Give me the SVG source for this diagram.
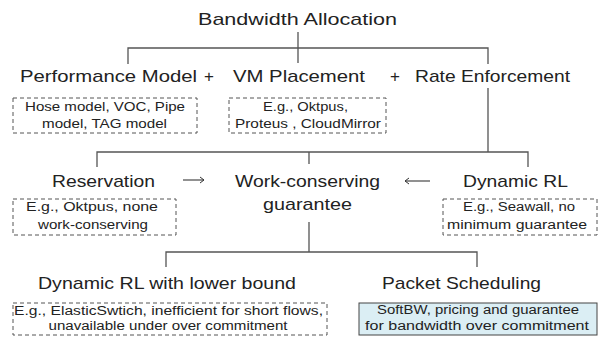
<svg xmlns="http://www.w3.org/2000/svg" width="601" height="345" viewBox="0 0 601 345">
<style>
text{font-family:"Liberation Sans",Arial,sans-serif;fill:#222;text-anchor:middle}
.h{font-size:17px}
.s{font-size:12.5px}
.dash{fill:none;stroke:#555;stroke-width:1;stroke-dasharray:4,3}
.ln{fill:none;stroke:#555;stroke-width:1.3}
</style>
<defs>
<marker id="ah" markerWidth="8" markerHeight="8" refX="7" refY="4" orient="auto" markerUnits="userSpaceOnUse">
<path d="M3,1 L7,4 L3,7" fill="none" stroke="#333" stroke-width="1"/>
</marker>
</defs>
<rect width="601" height="345" fill="#fff"/>
<g id="connectors">
<path class="ln" d="M298,32 V63 M128,64 V48 H488 V64 M488,88 V152 M97,167 V152 H528 V167 M309,152 V164 M309,222 V252 M166,267 V252 H477 V267"/>
<path class="ln" d="M183,180 H204" marker-end="url(#ah)"/>
<path class="ln" d="M430,181 H405" marker-end="url(#ah)"/>
</g>
<g id="title"><text class="h" x="297.5" y="25" textLength="199" lengthAdjust="spacingAndGlyphs">Bandwidth Allocation</text></g>
<g id="perf">
<text class="h" x="108.5" y="82" textLength="177" lengthAdjust="spacingAndGlyphs">Performance Model</text>
<rect class="dash" x="13" y="98" width="184" height="35"/>
<text class="s" x="105" y="111" textLength="160" lengthAdjust="spacingAndGlyphs">Hose model, VOC, Pipe</text>
<text class="s" x="104.5" y="128" textLength="125" lengthAdjust="spacingAndGlyphs">model, TAG model</text>
</g>
<g id="plus1"><text class="h" x="209" y="82">+</text></g>
<g id="vm">
<text class="h" x="299" y="82" textLength="132" lengthAdjust="spacingAndGlyphs">VM Placement</text>
<rect class="dash" x="229" y="98" width="157" height="35"/>
<text class="s" x="305.5" y="111" textLength="85" lengthAdjust="spacingAndGlyphs">E.g., Oktpus,</text>
<text class="s" x="308" y="128" textLength="146" lengthAdjust="spacingAndGlyphs">Proteus , CloudMirror</text>
</g>
<g id="plus2"><text class="h" x="395" y="82">+</text></g>
<g id="rate"><text class="h" x="492.5" y="82" textLength="155" lengthAdjust="spacingAndGlyphs">Rate Enforcement</text></g>
<g id="reservation">
<text class="h" x="103.5" y="187" textLength="103" lengthAdjust="spacingAndGlyphs">Reservation</text>
<rect class="dash" x="13" y="199" width="163" height="36"/>
<text class="s" x="92" y="211" textLength="132" lengthAdjust="spacingAndGlyphs">E.g., Oktpus, none</text>
<text class="s" x="93" y="229" textLength="110" lengthAdjust="spacingAndGlyphs">work-conserving</text>
</g>
<g id="workconserving">
<text class="h" x="307.5" y="187" textLength="145" lengthAdjust="spacingAndGlyphs">Work-conserving</text>
<text class="h" x="307.5" y="210" textLength="89" lengthAdjust="spacingAndGlyphs">guarantee</text>
</g>
<g id="dynamicrl">
<text class="h" x="515.5" y="187" textLength="105" lengthAdjust="spacingAndGlyphs">Dynamic RL</text>
<rect class="dash" x="443" y="199" width="154" height="36"/>
<text class="s" x="519" y="211" textLength="112" lengthAdjust="spacingAndGlyphs">E.g., Seawall, no</text>
<text class="s" x="517" y="229" textLength="140" lengthAdjust="spacingAndGlyphs">minimum guarantee</text>
</g>
<g id="lowerbound">
<text class="h" x="167" y="289" textLength="258" lengthAdjust="spacingAndGlyphs">Dynamic RL with lower bound</text>
<rect class="dash" x="13" y="303" width="314" height="32"/>
<text class="s" x="168.5" y="315" textLength="309" lengthAdjust="spacingAndGlyphs">E.g., ElasticSwtich, inefficient for short flows,</text>
<text class="s" x="168" y="330" textLength="239" lengthAdjust="spacingAndGlyphs">unavailable under over commitment</text>
</g>
<g id="packet">
<text class="h" x="461.5" y="289" textLength="159" lengthAdjust="spacingAndGlyphs">Packet Scheduling</text>
<rect x="359" y="303" width="238" height="32" fill="#dbeef4" stroke="#444" stroke-width="1"/>
<text class="s" x="478" y="314" textLength="202" lengthAdjust="spacingAndGlyphs">SoftBW, pricing and guarantee</text>
<text class="s" x="477" y="330" textLength="224" lengthAdjust="spacingAndGlyphs">for bandwidth over commitment</text>
</g>
</svg>
